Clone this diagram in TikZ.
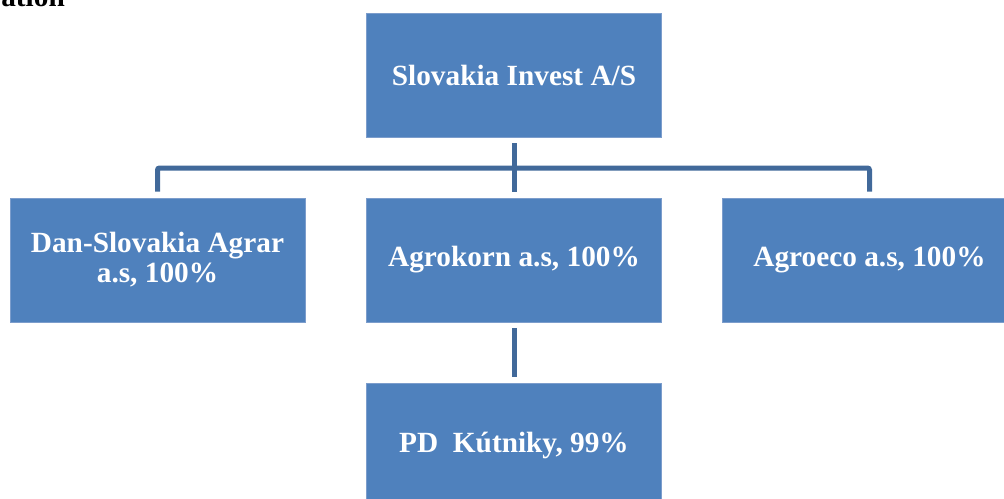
\documentclass[tikz,border=0pt]{standalone}
\usepackage{fontspec}
\setmainfont{Liberation Serif}
\definecolor{boxblue}{HTML}{4F81BD}
\definecolor{boxedge}{HTML}{7C9DCC}
\definecolor{connblue}{HTML}{41699A}
\begin{document}
\begin{tikzpicture}[x=1pt,y=-1pt,
  orgbox/.style={rectangle, fill=boxblue, draw=boxedge, line width=0.8pt,
    minimum width=295pt, minimum height=124pt, inner sep=0pt,
    text=white, align=center, font=\bfseries\fontsize{29.3}{30}\selectfont},
  conn/.style={draw=connblue, line width=5pt, rounded corners=2pt}]
\useasboundingbox (0,0) rectangle (1004,498);
\clip (0,0) rectangle (1004,498);
\node[anchor=base east, inner sep=0pt, font=\bfseries\fontsize{29.3}{30}\selectfont] (head) at (65,6) {ation};
\node[orgbox] (top) at (514,75) {Slovakia Invest A/S};
\node[orgbox] (dan) at (157.5,260) {Dan-Slovakia Agrar\\a.s, 100\%};
\node[orgbox] (agrokorn) at (514,260) {Agrokorn a.s, 100\%};
\node[orgbox] (agroeco) at (869.5,260) {Agroeco a.s, 100\%};
\node[orgbox] (pd) at (514,445) {PD\ \ Kútniky, 99\%};
\coordinate (bus) at (514,168);
\draw[conn] ([yshift=6pt]dan.north) |- (bus) -| ([yshift=6pt]agroeco.north);
\draw[conn] ([yshift=-6pt]top.south) -- ([yshift=6pt]agrokorn.north);
\draw[conn] ([yshift=-6pt]agrokorn.south) -- ([yshift=6pt]pd.north);
\end{tikzpicture}
\end{document}
